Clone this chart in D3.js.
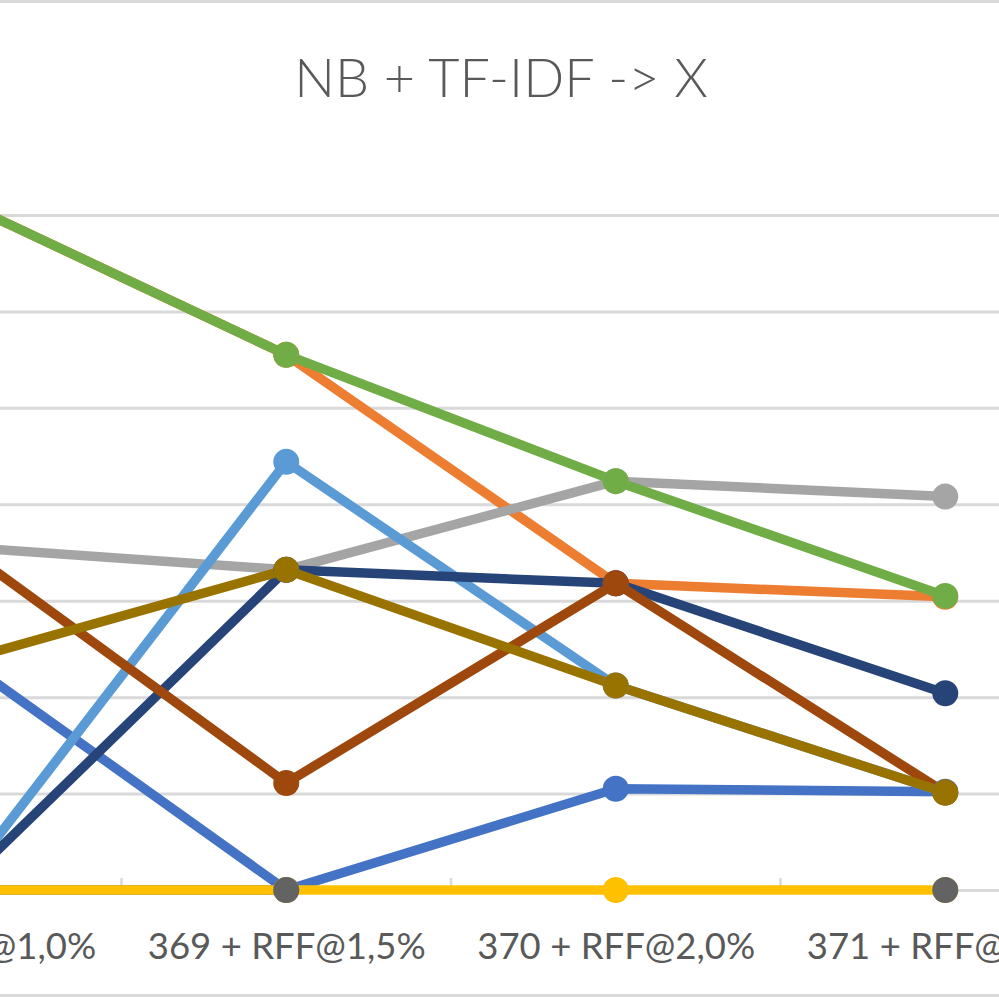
<!DOCTYPE html>
<html>
<head>
<meta charset="utf-8">
<script src="https://cdn.jsdelivr.net/npm/d3@7/dist/d3.min.js"></script>
<style>
  html, body { margin: 0; padding: 0; background: #fff; overflow: hidden; }
  svg { display: block; }
</style>
</head>
<body>
<svg id="chart" width="999" height="999"></svg>
<script>
// ---- data ----
const titleText = "NB + TF-IDF -> X";
const categories = ["368 + RFF@1,0%", "369 + RFF@1,5%", "370 + RFF@2,0%", "371 + RFF@2,5%"];
const yTicks = [0, 1, 2, 3, 4, 5, 6, 7];

const s1Blue      = [2.44, 0.00, 1.05, 1.02];
const s2Orange    = [7.16, 5.55, 3.18, 3.04];
const s3Gray      = [3.56, 3.32, 4.24, 4.08];
const s4Yellow    = [0.00, 0.00, 0.00, 0.00];
const s5LightBlue = [0.00, 4.44, 2.12, 1.01];
const s6Green     = [7.16, 5.55, 4.24, 3.05];
const s7DarkBlue  = [0.00, 3.32, 3.18, 2.04];
const s8Brown     = [3.60, 1.11, 3.18, 1.01];
const s9DarkGray  = [0.00, 0.00, null, 0.00];
const s10Olive    = [2.36, 3.32, 2.12, 1.01];

const seriesValues = [s1Blue, s2Orange, s3Gray, s4Yellow, s5LightBlue, s6Green, s7DarkBlue, s8Brown, s9DarkGray, s10Olive];
const seriesColors = ["#4472C4", "#ED7D31", "#A5A5A5", "#FFC000", "#5B9BD5", "#70AD47", "#264478", "#9E480E", "#636363", "#997300"];
const lineDrawOrder = [8, 0, 1, 2, 3, 4, 5, 6, 7, 9];

// ---- layout ----
const svg = d3.select("#chart");
const W = 999, H = 999;
const plotLeft = -208, plotRight = 1110, plotTop = 215, plotBottom = 890;

svg.append("rect").attr("width", W).attr("height", H).attr("fill", "#fff");
// chart-area border
svg.append("rect").attr("x", -20).attr("y", 1.5).attr("width", W + 40).attr("height", 994)
  .attr("fill", "none").attr("stroke", "#D9D9D9").attr("stroke-width", 3);

const x = d3.scalePoint().domain(categories).range([plotLeft, plotRight]).padding(0.5);
const y = d3.scaleLinear().domain([0, 7]).range([plotBottom, plotTop]);

// gridlines
const grid = svg.append("g").attr("transform", `translate(${plotLeft},0)`)
  .call(d3.axisLeft(y).tickValues(yTicks).tickSize(-(plotRight - plotLeft)).tickFormat(""));
grid.select(".domain").remove();
grid.selectAll("line").attr("stroke", "#D9D9D9").attr("stroke-width", 3);

// x axis (labels)
const xAxis = svg.append("g").attr("transform", `translate(0,${plotBottom})`)
  .call(d3.axisBottom(x).tickSize(0).tickPadding(43));
xAxis.select(".domain").attr("stroke", "#D9D9D9").attr("stroke-width", 3);
xAxis.selectAll("text")
  .attr("fill", "#595959")
  .style("font-family", "Lato, 'Open Sans', sans-serif")
  .style("font-size", "36.5px");

// tick marks between categories
const step = x.step();
svg.append("g").selectAll("line")
  .data(categories.slice(0, -1))
  .join("line")
  .attr("x1", d => x(d) + step / 2).attr("x2", d => x(d) + step / 2)
  .attr("y1", plotBottom - 12).attr("y2", plotBottom)
  .attr("stroke", "#D9D9D9").attr("stroke-width", 2.5);

// lines
const line = d3.line()
  .defined(d => d.v !== null)
  .x(d => x(d.c)).y(d => y(d.v));

const toPts = vals => vals.map((v, i) => ({ c: categories[i], v }));

const linesG = svg.append("g");
lineDrawOrder.forEach(i => {
  linesG.append("path")
    .datum(toPts(seriesValues[i]))
    .attr("d", line)
    .attr("fill", "none")
    .attr("stroke", seriesColors[i])
    .attr("stroke-width", 9.5)
    .attr("stroke-linejoin", "round")
    .attr("stroke-linecap", "round");
});

// markers
const markersG = svg.append("g");
seriesValues.forEach((vals, i) => {
  markersG.append("g").selectAll("circle")
    .data(toPts(vals).filter(d => d.v !== null))
    .join("circle")
    .attr("cx", d => x(d.c)).attr("cy", d => y(d.v))
    .attr("r", 13)
    .attr("fill", seriesColors[i]);
});

// title
svg.append("text")
  .attr("x", 501).attr("y", 97)
  .attr("text-anchor", "middle")
  .attr("fill", "#595959")
  .style("font-family", "Lato, 'Open Sans', sans-serif")
  .style("font-weight", 300)
  .style("font-size", "54px")
  .text(titleText);
</script>
</body>
</html>
